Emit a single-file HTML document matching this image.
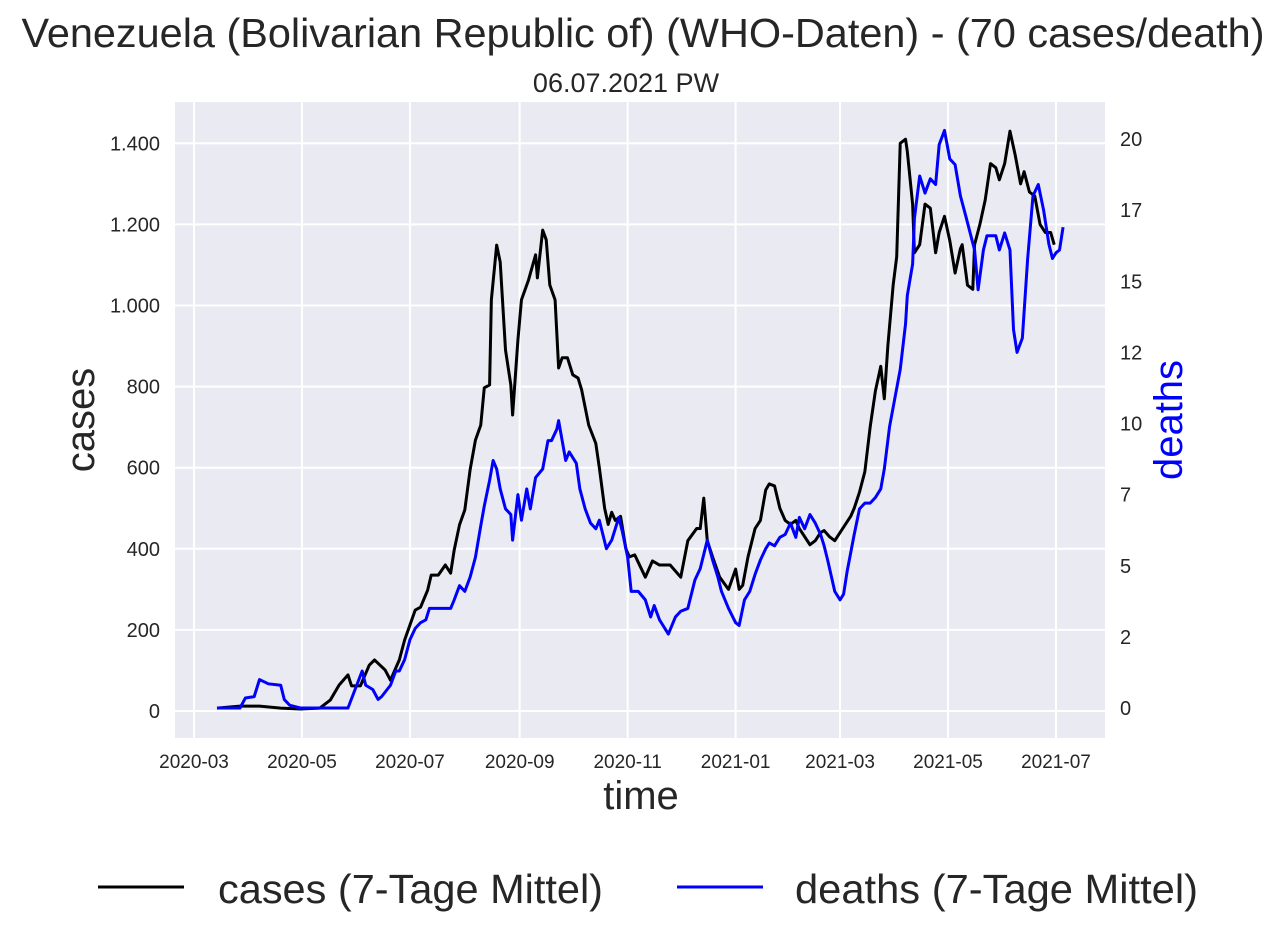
<!DOCTYPE html>
<html><head><meta charset="utf-8"><style>
body{margin:0;background:#fff;font-family:"Liberation Sans",Arial,sans-serif;}
svg text{font-family:"Liberation Sans",Arial,sans-serif;fill:#262626;}
</style></head><body>
<svg id="chart" width="1280" height="941" xmlns="http://www.w3.org/2000/svg">
<text x="643" y="47" font-size="41" text-anchor="middle" textLength="1243" lengthAdjust="spacingAndGlyphs">Venezuela (Bolivarian Republic of) (WHO-Daten) - (70 cases/death)</text>
<text x="626" y="92" font-size="27" text-anchor="middle">06.07.2021 PW</text>
<rect x="175" y="102" width="930" height="636" fill="#eaeaf2"/>
<g id="grid"></g><g id="lines"></g><g id="ticks"></g>
<text x="641" y="809" font-size="40" text-anchor="middle">time</text>
<text transform="translate(94,420) rotate(-90)" font-size="40" text-anchor="middle">cases</text>
<text transform="translate(1182,420) rotate(-90)" font-size="40" text-anchor="middle" style="fill:#0000ff">deaths</text>
<g>
<line x1="98" y1="887" x2="184" y2="887" stroke="#000" stroke-width="3"/>
<text x="218" y="903" font-size="41" textLength="385" lengthAdjust="spacingAndGlyphs">cases (7-Tage Mittel)</text>
<line x1="677" y1="887" x2="763" y2="887" stroke="#0000ff" stroke-width="3"/>
<text x="795" y="903" font-size="41" textLength="403" lengthAdjust="spacingAndGlyphs">deaths (7-Tage Mittel)</text>
</g>
</svg>
<script>
// days since 2020-03-01
const caseDays=[13,26,37,49,60,71,77,82,87,89,94,99,102,108,111,116,119,122,125,128,132,134,138,142,145,147,150,153,156,159,162,164,167,168,171,173,176,179,180,183,185,189,193,194,197,199,201,204,206,208,211,214,217,219,223,227,229,232,234,236,238,241,244,246,249,255,259,263,269,275,279,284,286,288,290,293,297,302,306,308,310,313,317,320,323,325,328,331,334,337,340,342,348,351,354,356,359,362,365,368,371,373,376,379,382,385,388,390,392,395,397,399,402,403,406,407,410,413,416,419,421,424,427,430,433,434,437,440,441,444,447,450,453,455,458,461,464,467,469,472,475,478,481,484,486,491];
const caseVals=[7,12,12,7,5,7,27,64,89,62,62,113,126,101,76,126,175,212,249,256,298,335,335,360,340,397,459,496,595,668,705,797,804,1014,1149,1107,890,804,730,915,1014,1063,1125,1068,1186,1162,1051,1014,846,871,871,829,821,792,705,660,600,500,460,490,470,480,400,380,385,330,370,360,360,330,420,450,450,525,420,380,330,300,350,300,310,380,450,470,545,560,555,500,470,460,470,450,410,420,440,445,430,420,440,460,480,500,540,590,700,790,850,770,900,1050,1120,1400,1410,1380,1250,1130,1150,1250,1240,1130,1180,1220,1160,1080,1140,1150,1050,1040,1150,1200,1260,1350,1340,1310,1350,1430,1370,1300,1330,1280,1270,1200,1180,1180,1150];
const deathDays=[13,26,29,34,37,42,49,51,54,60,82,87,91,95,97,101,104,106,111,114,116,119,122,125,128,131,133,139,145,147,150,153,156,159,162,164,167,169,171,173,176,179,180,183,185,188,190,193,197,200,202,205,206,210,212,216,218,221,224,227,229,233,236,240,242,245,247,251,255,258,260,263,268,272,275,279,283,286,290,293,296,298,302,306,308,311,314,317,320,323,325,328,331,334,337,340,342,345,348,351,354,356,358,362,365,367,369,373,376,379,382,385,388,390,393,396,399,402,403,406,407,410,413,416,419,421,424,427,430,433,436,441,443,446,448,450,453,455,458,461,463,465,468,471,474,477,480,483,485,487,489,491];
const deathVals=[0,0,0.35,0.4,1,0.85,0.8,0.3,0.1,0,0,0,0.65,1.3,0.8,0.65,0.3,0.4,0.8,1.3,1.3,1.7,2.4,2.8,3,3.1,3.5,3.5,3.5,3.8,4.3,4.1,4.6,5.3,6.4,7.1,8,8.7,8.4,7.7,7,6.8,5.9,7.5,6.6,7.7,7,8.1,8.4,9.4,9.4,9.8,10.1,8.7,9,8.6,7.7,7,6.5,6.3,6.6,5.6,5.9,6.7,6.2,5.3,4.1,4.1,3.8,3.2,3.6,3.1,2.6,3.2,3.4,3.5,4.5,4.9,5.9,5.2,4.6,4.1,3.5,3.0,2.9,3.8,4.1,4.7,5.2,5.6,5.8,5.7,6,6.1,6.5,6,6.7,6.3,6.8,6.5,6.1,5.7,5.2,4.1,3.8,4,4.8,6.1,7,7.2,7.2,7.4,7.7,8.4,9.9,10.9,11.9,13.5,14.5,15.6,17.2,18.7,18.1,18.6,18.4,19.8,20.3,19.3,19.1,18,17.3,16.1,14.7,16.1,16.6,16.6,16.6,16.1,16.7,16.1,13.3,12.5,13,15.8,18,18.4,17.5,16.3,15.8,16,16.1,16.9];
const leftTicks=[0,200,400,600,800,1000,1200,1400];
const leftLabels=["0","200","400","600","800","1.000","1.200","1.400"];
const rightTicks=[0,2.5,5,7.5,10,12.5,15,17.5,20];
const rightLabels=["0","2","5","7","10","12","15","17","20"];
const xTickDays=[0,61,122,184,245,306,365,426,487];
const xTickLabels=["2020-03","2020-05","2020-07","2020-09","2020-11","2021-01","2021-03","2021-05","2021-07"];

const X=d=>194+d*1.770;
const YL=v=>711-v*0.4055;
const YR=v=>708-v*28.45;
const NS="http://www.w3.org/2000/svg";
const grid=document.getElementById('grid'),ticks=document.getElementById('ticks'),lines=document.getElementById('lines');
function mk(tag,attrs,parent){const e=document.createElementNS(NS,tag);for(const k in attrs)e.setAttribute(k,attrs[k]);parent.appendChild(e);return e;}
leftTicks.forEach((v,i)=>{
  const g=mk('line',{x1:175,x2:1105,y1:YL(v),y2:YL(v),stroke:'#fff','stroke-width':2},grid);
  
  
  const t=mk('text',{x:160,y:YL(v)+7,'font-size':20,'text-anchor':'end'},ticks);
  t.textContent=leftLabels[i];
  
  
});
rightTicks.forEach((v,i)=>{
  const t=mk('text',{x:1120,y:YR(v)+7,'font-size':20,'text-anchor':'start'},ticks);
  t.textContent=rightLabels[i];
  
  
});
xTickDays.forEach((d,i)=>{
  const g=mk('line',{x1:X(d),x2:X(d),y1:102,y2:738,stroke:'#fff','stroke-width':2},grid);
  
  
  const t=mk('text',{x:X(d),y:768,'font-size':19,'text-anchor':'middle'},ticks);
  t.textContent=xTickLabels[i];
  
  
});
const pc=mk('polyline',{points:caseDays.map((d,i)=>X(d)+','+YL(caseVals[i])).join(' '),fill:'none',stroke:'#000','stroke-width':3,'stroke-linejoin':'round'},lines);


const pd=mk('polyline',{points:deathDays.map((d,i)=>X(d)+','+YR(deathVals[i])).join(' '),fill:'none',stroke:'#0000ff','stroke-width':3,'stroke-linejoin':'round'},lines);


</script>
</body></html>
